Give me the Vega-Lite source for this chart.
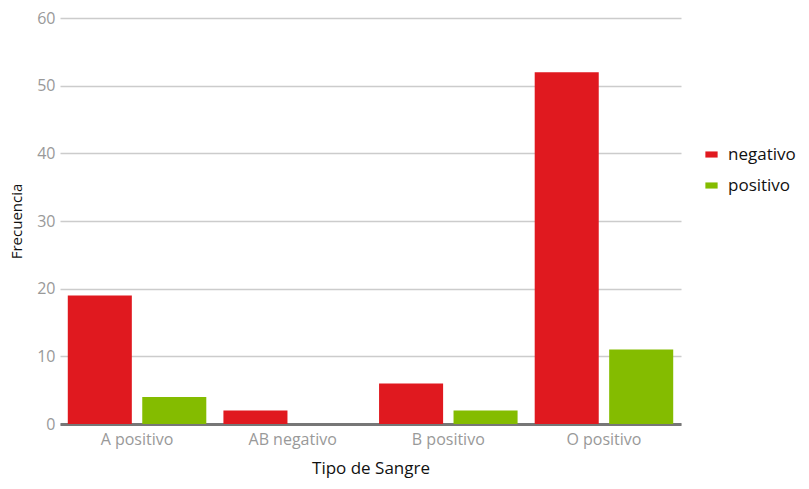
{
  "$schema": "https://vega.github.io/schema/vega-lite/v6.json",
  "width": 621,
  "height": 406,
  "autosize": {"type": "none"},
  "padding": {"left": 60, "top": 18, "right": 128, "bottom": 65},
  "background": "white",
  "config": {
    "font": "Open Sans",
    "view": {"stroke": null}
  },
  "data": {
    "values": [
      {"tipo": "A positivo", "rh": "negativo", "frecuencia": 19},
      {"tipo": "A positivo", "rh": "positivo", "frecuencia": 4},
      {"tipo": "AB negativo", "rh": "negativo", "frecuencia": 2},
      {"tipo": "B positivo", "rh": "negativo", "frecuencia": 6},
      {"tipo": "B positivo", "rh": "positivo", "frecuencia": 2},
      {"tipo": "O positivo", "rh": "negativo", "frecuencia": 52},
      {"tipo": "O positivo", "rh": "positivo", "frecuencia": 11}
    ]
  },
  "mark": {"type": "bar"},
  "encoding": {
    "x": {
      "field": "tipo",
      "type": "nominal",
      "sort": ["A positivo", "AB negativo", "B positivo", "O positivo"],
      "scale": {"paddingInner": 0.11, "paddingOuter": 0.05},
      "axis": {
        "title": "Tipo de Sangre",
        "titleFontSize": 17,
        "titleFontWeight": "normal",
        "titleColor": "#111111",
        "titlePadding": 13,
        "labelAngle": 0,
        "labelFontSize": 16,
        "labelColor": "#999999",
        "labelPadding": 7,
        "ticks": false,
        "domainColor": "#777777",
        "domainWidth": 3,
        "grid": false
      }
    },
    "xOffset": {
      "field": "rh",
      "type": "nominal",
      "scale": {"domain": ["negativo", "positivo"], "paddingInner": 0.14}
    },
    "y": {
      "field": "frecuencia",
      "type": "quantitative",
      "scale": {"domain": [0, 60]},
      "axis": {
        "title": "Frecuencia",
        "titleFontSize": 15,
        "titleFontWeight": "normal",
        "titleColor": "#111111",
        "titlePadding": 12,
        "values": [0, 10, 20, 30, 40, 50, 60],
        "labelFontSize": 16,
        "labelColor": "#999999",
        "labelPadding": 5,
        "ticks": false,
        "domain": false,
        "gridColor": "#cccccc",
        "gridWidth": 1.5
      }
    },
    "color": {
      "field": "rh",
      "type": "nominal",
      "scale": {"domain": ["negativo", "positivo"], "range": ["#e0191f", "#84bc00"]},
      "legend": {
        "title": null,
        "orient": "none",
        "legendX": 643,
        "legendY": 128,
        "symbolType": "M-1,-0.5L1,-0.5L1,0.5L-1,0.5Z",
        "symbolSize": 150,
        "symbolStrokeWidth": 0,
        "labelFontSize": 17,
        "labelColor": "#111111",
        "rowPadding": 13,
        "labelOffset": 8
      }
    }
  }
}
